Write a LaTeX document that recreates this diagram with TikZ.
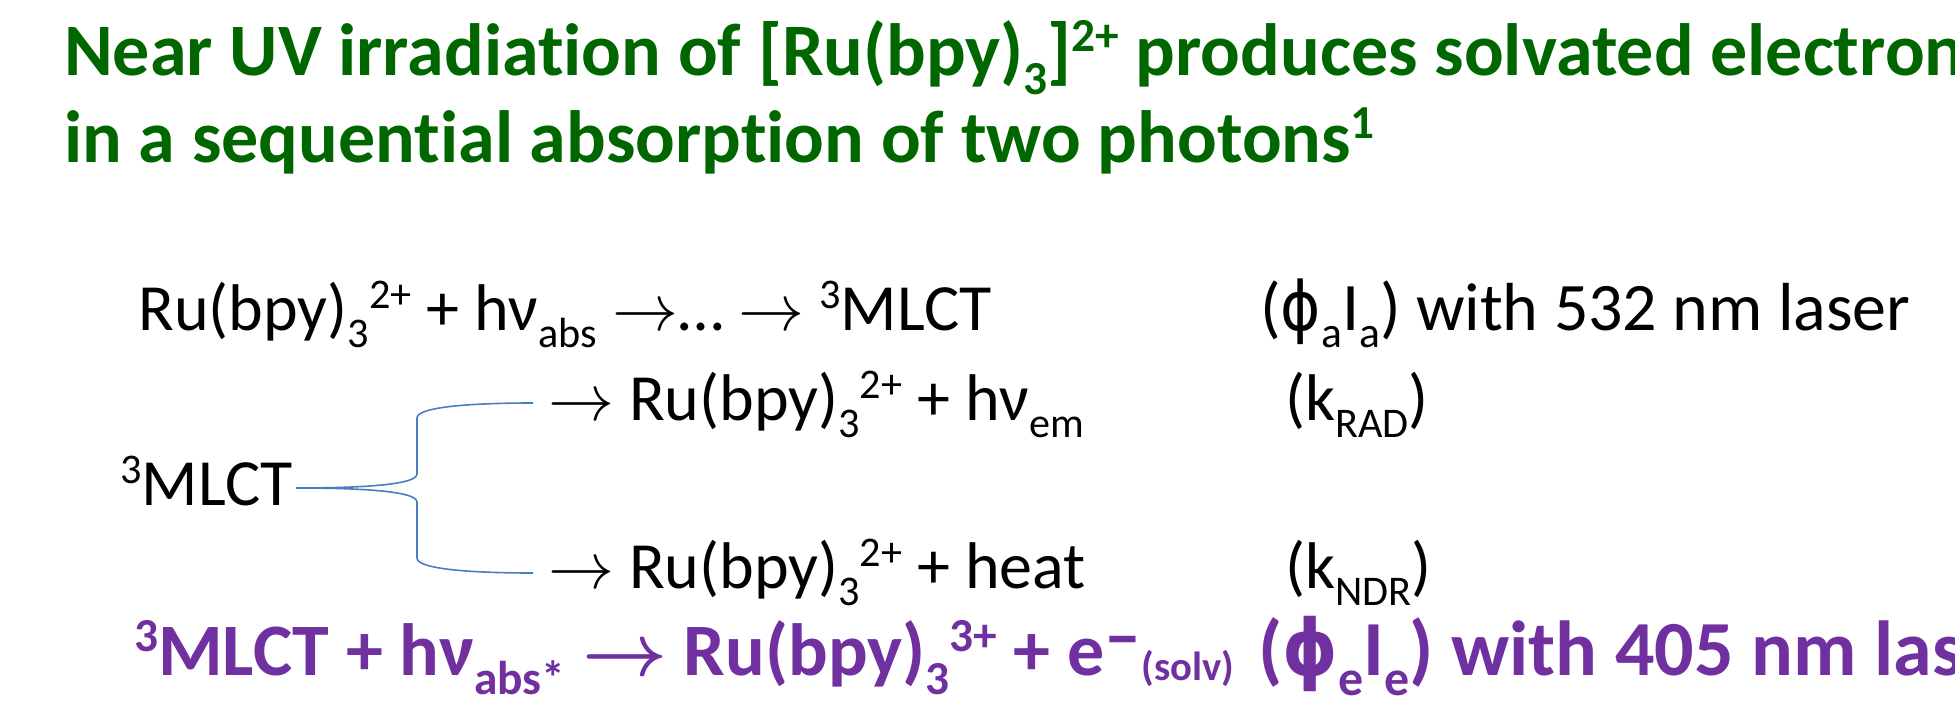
\RequirePackage{fix-cm}
\documentclass[tikz,border=0pt]{standalone}
\usepackage{fontspec}
\setmainfont{Carlito}[Ligatures=NoCommon]
\newfontfamily\dvs{DejaVu Sans}
\usepackage{bm}
\definecolor{ttlgreen}{RGB}{0,102,0}
\definecolor{ppl}{RGB}{112,48,160}
\definecolor{brc}{RGB}{74,126,187}
\newcommand\supx[1]{\raisebox{0.32em}{\scalebox{0.64}{#1}}}
\newcommand\subx[1]{\raisebox{-0.26em}{\scalebox{0.64}{#1}}}
\newcommand\rarr{$\rightarrow$}
\newcommand\brarr{$\bm{\rightarrow}$}
\newcommand\phii{{\dvs\scalebox{0.9}[1]{ϕ}}}
\begin{document}
\begin{tikzpicture}[x=1pt,y=-1pt,
  txt/.style={anchor=base west, inner sep=0pt, font=\fontsize{66}{78}\selectfont},
  ttl/.style={anchor=base west, inner sep=0pt, text=ttlgreen, font=\fontsize{74}{88}\selectfont\bfseries},
  pur/.style={anchor=base west, inner sep=0pt, text=ppl, font=\fontsize{74}{88}\selectfont\bfseries},
  bracel/.style={draw=brc, line width=1.6pt}]
\useasboundingbox (0,0) rectangle (1955,725);
\clip (0,0) rectangle (1955,725);
% title
\node[ttl] (t1) at (64,75) {Near UV irradiation of [Ru(bpy)\subx{3}]\supx{2+} produces solvated electron};
\node[ttl] (t2) at (64,162) {in a sequential absorption of two photons\supx{1}};
% reactions
\node[txt] (r1) at (138,330) {Ru(bpy)\subx{3}\supx{2+} + hν\subx{abs} \rarr… \rarr{} \supx{3}MLCT};
\node[txt, font=\fontsize{68}{80}\selectfont] (r1c) at (1260,330) {(\phii\subx{a}I\subx{a}) with 532 nm laser};
\node[txt] (r2) at (548,420) {\rarr{} Ru(bpy)\subx{3}\supx{2+} + hν\subx{em}};
\node[txt] (r2c) at (1285,420) {(k\subx{RAD})};
\node[txt] (m3) at (120,505) {\supx{3}MLCT};
\node[txt] (r4) at (548,588) {\rarr{} Ru(bpy)\subx{3}\supx{2+} + heat};
\node[txt] (r4c) at (1285,588) {(k\subx{NDR})};
\node[pur] (r5) at (134,675) {\supx{3}MLCT + hν\subx{abs*} \brarr{} Ru(bpy)\subx{3}\supx{3+} + e\raisebox{0.2em}{–}\raisebox{-0.08em}{\scalebox{0.55}{(solv)}}};
\node[pur, font=\fontsize{78}{92}\selectfont\bfseries] (r5c) at (1258,675) {(\phii\subx{e}I\subx{e}) with 405 nm laser};
% brace connector
\coordinate (s) at (296,488);
\coordinate (e1) at (533,403);
\coordinate (e2) at (533,573);
\draw[bracel] (s) .. controls (370,488) and (417,484) .. (417,474) -- (417,418) .. controls (417,407) and (470,403) .. (e1);
\draw[bracel] (s) .. controls (370,488) and (417,492) .. (417,502) -- (417,558) .. controls (417,569) and (470,573) .. (e2);
\end{tikzpicture}
\end{document}
